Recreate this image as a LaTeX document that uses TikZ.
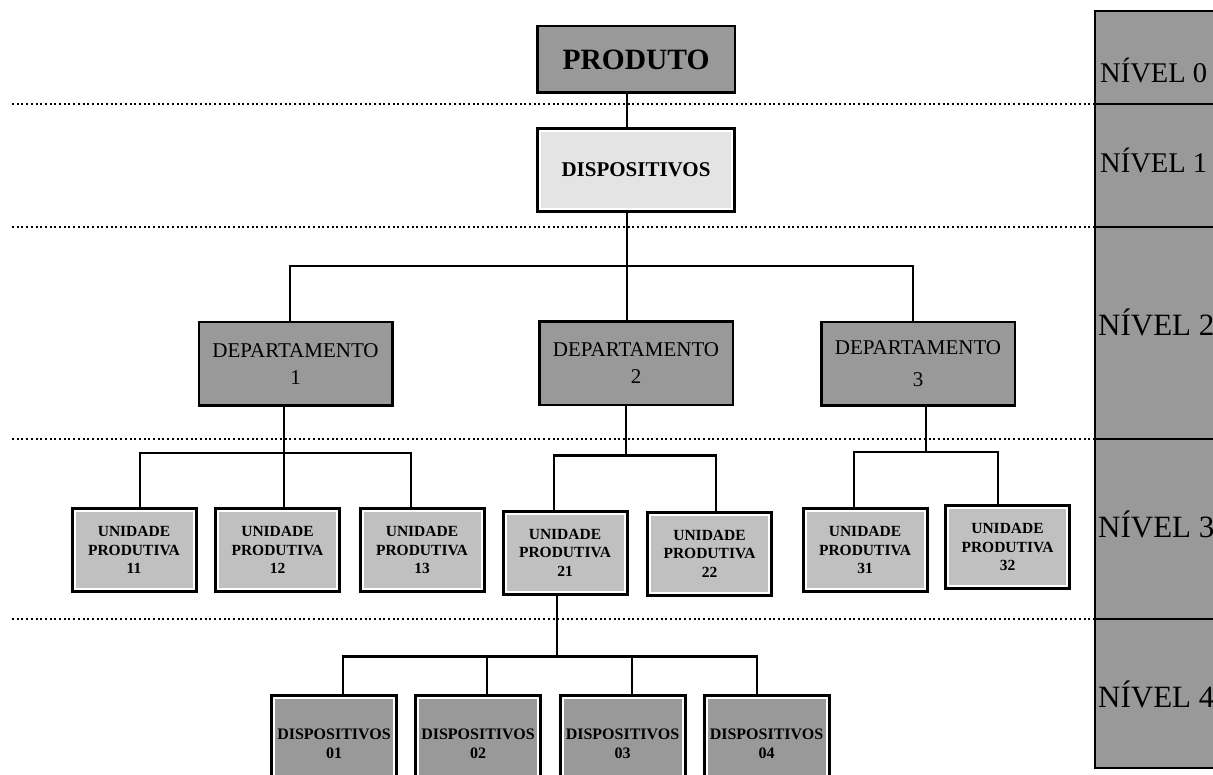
\documentclass[tikz,border=0pt]{standalone}
\usepackage{fontspec}
\setmainfont{Liberation Serif}
\usetikzlibrary{positioning}
\definecolor{cinza}{HTML}{999999}
\definecolor{cinzamedio}{HTML}{C0C0C0}
\definecolor{cinzaclaro}{HTML}{E4E4E4}

\begin{document}
\begin{tikzpicture}[x=1pt, y=-1pt,
    ligacao/.style={line width=2.2pt},
    divisa/.style={line width=2pt, dash pattern=on 2pt off 2.7pt},
    simples/.style={draw, line width=2.5pt, fill=cinza, inner sep=0pt, outer sep=1.25pt, align=center},
    dupla/.style={preaction={draw=black, line width=8pt}, draw=white, line width=2pt, inner sep=0pt, outer sep=4pt, align=center},
    celula/.style={draw, line width=2pt, fill=cinza, minimum width=150pt, anchor=north west, inner sep=0pt, outer sep=0pt},
    rotulo/.style={anchor=base west, inner sep=0pt},
    produto/.style={simples, minimum width=197.5pt, minimum height=66.5pt, font=\bfseries\fontsize{29.5}{34}\selectfont},
    depto/.style={simples, minimum width=193.5pt, minimum height=83.5pt, font=\fontsize{21}{27}\selectfont},
    nivel1/.style={dupla, fill=cinzaclaro, minimum width=192pt, minimum height=78pt, font=\bfseries\fontsize{21}{25}\selectfont},
    unidade/.style={dupla, fill=cinzamedio, minimum width=119pt, minimum height=78pt, font=\bfseries\fontsize{15.5}{18.5}\selectfont},
    disp/.style={dupla, fill=cinza, minimum width=120pt, minimum height=92pt, font=\bfseries\fontsize{16}{19}\selectfont}]

  \useasboundingbox (0,0) rectangle (1213,775);

  \foreach \i/\topo/\alt in {0/11/93, 1/104/123, 2/227/212, 3/439/180, 4/619/149}
    \node [celula, minimum height=\alt] (nivel-\i) at (1095,\topo) {};

  \foreach \i/\x/\y/\tam in {0/1100/82.5/28.5, 1/1100/172.5/28.5, 2/1098/336/31, 3/1098/537/31, 4/1098/707/31}
    \node [rotulo, font=\fontsize{\tam}{\tam}\selectfont] (rotulo-\i) at (\x,\y) {NÍVEL \i};

  \coordinate (margem) at (12,0);
  \foreach \i in {0,...,3}
    \draw [divisa] (margem |- nivel-\i.south west) -- (nivel-\i.south west);

  \node [produto] (produto) at (636,59.5) {PRODUTO};
  \node [nivel1] (dispositivos) at (636,170) {DISPOSITIVOS};

  \foreach \d/\x/\y/\esp in {1/295.5/364/0, 2/636/363.5/0, 3/918/364/5}
    \node [depto] (depto-\d) at (\x,\y) {DEPARTAMENTO\\[\esp pt]\d};

  \foreach \u/\x/\y in {11/134/550, 12/277.5/550, 13/422/550, 21/565/552.5, 22/709.5/553.5, 31/865/550, 32/1007.5/547}
    \node [unidade] (unidade-\u) at (\x,\y) {UNIDADE\\PRODUTIVA\\\u};

  \foreach \m/\x in {01/334, 02/478, 03/622.5, 04/766.5}
    \node [disp] (disp-\m) at (\x,744) {DISPOSITIVOS\\\m};

  \draw [ligacao] ([xshift=-9]produto.south) -- ([xshift=-9]dispositivos.north);

  \foreach \d/\s in {1/-5.5, 2/-9, 3/-5}
    \draw [ligacao] ([xshift=-9]dispositivos.south) -- ++(0,53) -| ([xshift=\s]depto-\d.north);

  \foreach \u/\s in {11/6, 12/6.5, 13/-11}
    \draw [ligacao] ([xshift=-11.5]depto-1.south) -- ++(0,46) -| ([xshift=\s]unidade-\u.north);

  \foreach \u/\s in {21/-11, 22/6.5}
    \draw [ligacao] ([xshift=-10]depto-2.south) -- ++(0,49) -| ([xshift=\s]unidade-\u.north);

  \foreach \u/\s in {31/-11, 32/-9.5}
    \draw [ligacao] ([xshift=8]depto-3.south) -- ++(0,45) -| ([xshift=\s]unidade-\u.north);

  \foreach \m/\s in {01/9, 02/9, 03/9.5, 04/-9.5}
    \draw [ligacao] ([xshift=-8]unidade-21.south) -- ++(0,61) -| ([xshift=\s]disp-\m.north);

\end{tikzpicture}
\end{document}
